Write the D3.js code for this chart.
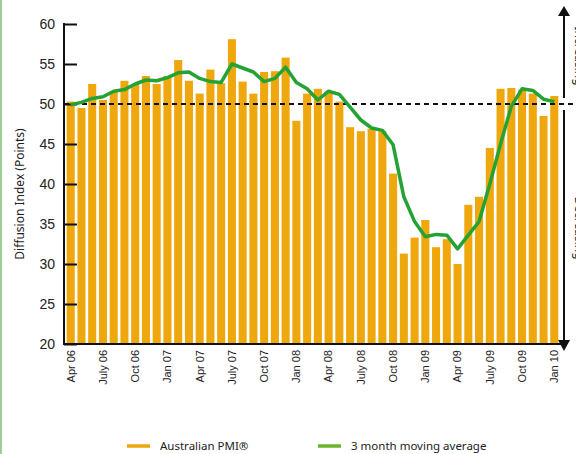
<!DOCTYPE html>
<html>
<head>
<meta charset="utf-8">
<script src="https://cdn.jsdelivr.net/npm/d3@7"></script>
<style>
  body { margin: 0; background: #fff; }
  svg { display: block; font-family: "Noto Sans", sans-serif; }
</style>
</head>
<body>
<div id="chart"></div>
<script>
var svgWidth = 576;
var svgHeight = 454;

// months Apr 06 .. Jan 10
var months = ["Apr 06","May 06","Jun 06","July 06","Aug 06","Sep 06","Oct 06","Nov 06","Dec 06",
  "Jan 07","Feb 07","Mar 07","Apr 07","May 07","Jun 07","July 07","Aug 07","Sep 07","Oct 07","Nov 07","Dec 07",
  "Jan 08","Feb 08","Mar 08","Apr 08","May 08","Jun 08","July 08","Aug 08","Sep 08","Oct 08","Nov 08","Dec 08",
  "Jan 09","Feb 09","Mar 09","Apr 09","May 09","Jun 09","July 09","Aug 09","Sep 09","Oct 09","Nov 09","Dec 09",
  "Jan 10"];

// Australian PMI
var pmi = [50.3, 49.5, 52.5, 50.5, 51.5, 52.9, 52.5, 53.5, 52.5,
  53.5, 55.5, 52.9, 51.3, 54.3, 52.6, 58.1, 52.8, 51.3, 54.0, 54.1, 55.8,
  47.9, 51.3, 51.9, 51.6, 50.3, 47.1, 46.6, 46.9, 46.6, 41.3, 31.3, 33.3,
  35.5, 32.1, 33.1, 30.0, 37.4, 38.4, 44.5, 51.9, 52.0, 51.8, 51.3, 48.5,
  51.0];

// 3 month moving average
var movingAvg = [49.9, 50.2, 50.7, 50.9, 51.6, 51.8, 52.5, 53.0, 52.9,
  53.3, 53.9, 54.0, 53.2, 52.8, 52.7, 55.0, 54.5, 54.0, 52.8, 53.2, 54.6,
  52.7, 51.9, 50.5, 51.6, 51.2, 49.6, 48.0, 47.0, 46.7, 44.9, 38.4, 35.3,
  33.4, 33.7, 33.6, 31.9, 33.6, 35.3, 40.0, 45.0, 49.7, 51.9, 51.7, 50.6,
  50.3];

var tickMonths = months.filter(function(d, i) { return i % 3 === 0; });
var yTicks = [20, 25, 30, 35, 40, 45, 50, 55, 60];

var barColor = "#efa70e";
var lineColor = "#24a234";

var svg = d3.select("#chart")
  .append("svg")
  .attr("width", svgWidth)
  .attr("height", svgHeight);

// light green frame edge on the left
svg.append("rect")
  .attr("x", 0).attr("y", 0)
  .attr("width", 2).attr("height", svgHeight)
  .attr("fill", "#9ccf94");

var x = d3.scaleBand()
  .domain(months)
  .range([64, 561])
  .padding(0.25);

var y = d3.scaleLinear()
  .domain([20, 60])
  .range([344, 24]);

// bars
svg.append("g")
  .selectAll("rect")
  .data(pmi)
  .enter()
  .append("rect")
  .attr("x", function(d, i) { return x(months[i]); })
  .attr("y", function(d) { return y(d); })
  .attr("width", x.bandwidth())
  .attr("height", function(d) { return y(20) - y(d); })
  .attr("fill", barColor);

// y axis, ticks pointing inward
var yAxis = d3.axisRight(y)
  .tickValues(yTicks)
  .tickSize(13)
  .tickFormat(d3.format("d"));

var yg = svg.append("g")
  .attr("transform", "translate(64,0)")
  .call(yAxis);
yg.select(".domain").remove();
yg.selectAll(".tick line").attr("stroke", "#111").attr("stroke-width", 2);
yg.selectAll(".tick text")
  .attr("x", -9)
  .attr("text-anchor", "end")
  .attr("fill", "#222")
  .style("font-size", "14px");

svg.append("line")
  .attr("x1", 64).attr("x2", 64)
  .attr("y1", y(60) - 1).attr("y2", y(20) + 1)
  .attr("stroke", "#111").attr("stroke-width", 2);

// x axis
var xAxis = d3.axisBottom(x)
  .tickValues(tickMonths)
  .tickSize(0);

var xg = svg.append("g")
  .attr("transform", "translate(0,344)")
  .call(xAxis);
xg.select(".domain").remove();
xg.selectAll(".tick text")
  .attr("transform", "rotate(-90)")
  .attr("x", -6)
  .attr("y", 0)
  .attr("dy", "0.35em")
  .attr("text-anchor", "end")
  .attr("fill", "#222")
  .style("font-size", "11px");

svg.append("line")
  .attr("x1", 63).attr("x2", 566)
  .attr("y1", 344).attr("y2", 344)
  .attr("stroke", "#111").attr("stroke-width", 2);

// y axis title
svg.append("text")
  .attr("transform", "translate(24," + 194 + ") rotate(-90)")
  .attr("text-anchor", "middle")
  .attr("fill", "#222")
  .style("font-size", "12px")
  .text("Diffusion Index (Points)");

// 50 reference line
svg.append("line")
  .attr("x1", 64).attr("x2", svgWidth)
  .attr("y1", y(50)).attr("y2", y(50))
  .attr("stroke", "#111")
  .attr("stroke-width", 2)
  .attr("stroke-dasharray", "5,4");

// moving average line
var line = d3.line()
  .x(function(d, i) { return x(months[i]) + x.bandwidth() / 2; })
  .y(function(d) { return y(d); });

svg.append("path")
  .datum(movingAvg)
  .attr("d", line)
  .attr("fill", "none")
  .attr("stroke", lineColor)
  .attr("stroke-width", 3.5)
  .attr("stroke-linejoin", "round");

// increasing / decreasing arrows on the right
var ax = 564;
svg.append("line")
  .attr("x1", ax).attr("x2", ax)
  .attr("y1", y(50) - 6).attr("y2", 14)
  .attr("stroke", "#111").attr("stroke-width", 2);
svg.append("path")
  .attr("d", "M" + ax + ",6 L" + (ax + 6) + ",16 L" + (ax - 6) + ",16 Z")
  .attr("fill", "#111");
svg.append("line")
  .attr("x1", ax).attr("x2", ax)
  .attr("y1", y(50) + 6).attr("y2", 340)
  .attr("stroke", "#111").attr("stroke-width", 2);
svg.append("path")
  .attr("d", "M" + ax + ",351 L" + (ax + 6) + ",340 L" + (ax - 6) + ",340 Z")
  .attr("fill", "#111");

// side labels, partly beyond the right edge as in the original
svg.append("text")
  .attr("transform", "translate(575,56) rotate(90)")
  .attr("text-anchor", "middle")
  .attr("fill", "#222")
  .style("font-size", "12px")
  .text("Increasing");
svg.append("text")
  .attr("transform", "translate(575,228) rotate(90)")
  .attr("text-anchor", "middle")
  .attr("fill", "#222")
  .style("font-size", "12px")
  .text("Decreasing");

// legend
var legend = [
  { label: "Australian PMI\u00AE", color: barColor, x: 127 },
  { label: "3 month moving average", color: "#6ab42d", x: 318 }
];
var lg = svg.append("g").selectAll("g")
  .data(legend)
  .enter()
  .append("g")
  .attr("transform", function(d) { return "translate(" + d.x + ",446)"; });
lg.append("line")
  .attr("x1", 0).attr("x2", 23)
  .attr("stroke", function(d) { return d.color; })
  .attr("stroke-width", 3.5);
lg.append("text")
  .attr("x", 33)
  .attr("dy", "0.35em")
  .attr("fill", "#222")
  .style("font-size", "11.5px")
  .text(function(d) { return d.label; });
</script>
</body>
</html>
